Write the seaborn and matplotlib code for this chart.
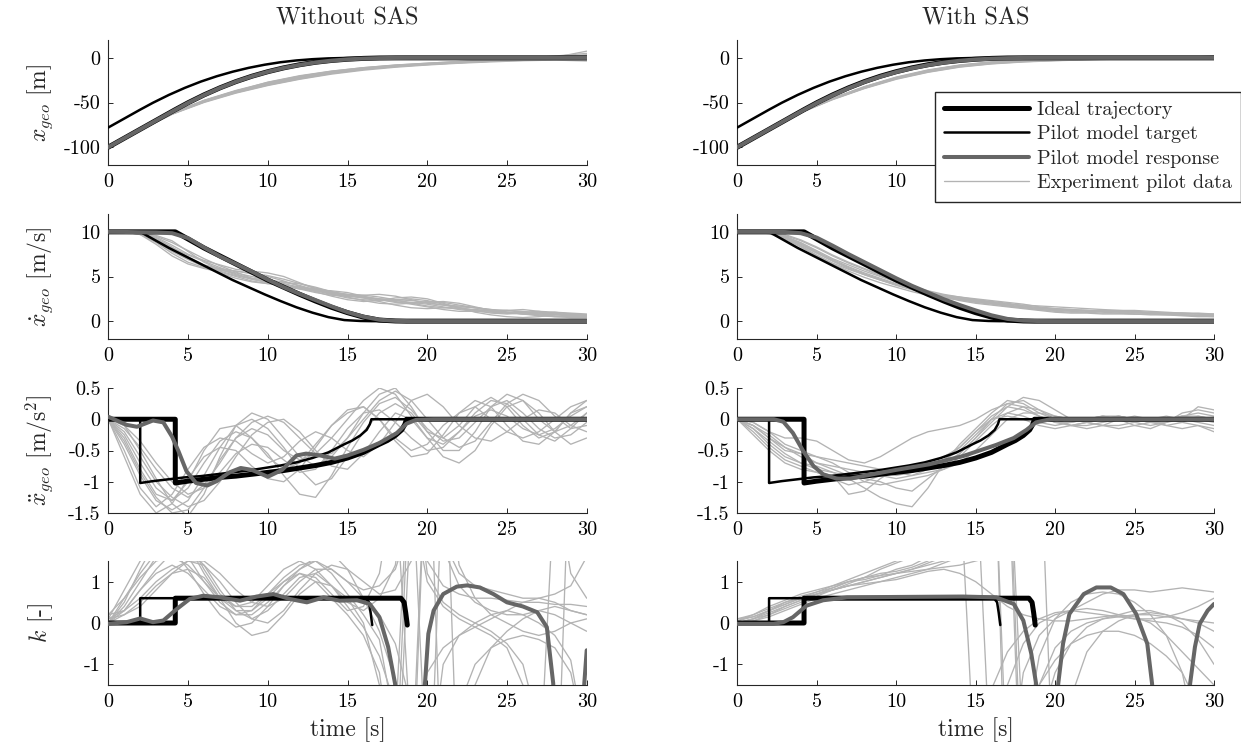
import matplotlib
matplotlib.use("Agg")
import matplotlib.pyplot as plt
from matplotlib.lines import Line2D
from matplotlib.ticker import FuncFormatter
import pandas as pd
import seaborn as sns

# ------------------------------------------------------------------
# Data
# ------------------------------------------------------------------
t_coarse = [0, 2, 4, 6, 8, 10, 12, 14, 16, 18, 20, 22, 24, 26, 28, 30]
t_grid = list(range(31))

# Ideal trajectory
ideal_pos_t = [0, 4.2, 5, 6, 7, 8, 9, 10, 11, 12, 13, 14, 15, 16, 17, 18, 18.7, 30]
ideal_pos = [-100, -58, -50.3, -41.5, -33.6, -26.6, -20.6, -15.5, -11.2, -7.7, -4.9,
             -2.9, -1.5, -0.6, -0.15, -0.02, 0, 0]
ideal_vel = [10, 10, 9.2, 8.2, 7.3, 6.4, 5.5, 4.6, 3.8, 3.0, 2.25, 1.55, 0.95, 0.45,
             0.12, 0.02, 0, 0]
ideal_acc_t = [0, 4.2, 4.2, 5, 6, 7, 8, 9, 10, 11, 12, 13, 14, 15, 16, 17, 17.5, 18,
               18.4, 18.6, 18.7, 30]
ideal_acc = [0, 0, -1.02, -0.99, -0.96, -0.93, -0.91, -0.88, -0.85, -0.82, -0.78, -0.74,
             -0.69, -0.62, -0.53, -0.40, -0.34, -0.26, -0.17, -0.08, 0, 0]
ideal_k_t = [0, 4.2, 4.2, 18.35, 18.55, 18.65, 18.75]
ideal_k = [0, 0, 0.6, 0.6, 0.5, 0.25, -0.05]

# Pilot model target (ideal trajectory with preview)
target_pos_t = [0, 2.0, 2.8, 3.8, 4.8, 5.8, 6.8, 7.8, 8.8, 9.8, 10.8, 11.8, 12.8, 13.8,
                14.8, 15.8, 16.5, 30]
target_pos = [-78, -58, -50.3, -41.5, -33.6, -26.6, -20.6, -15.5, -11.2, -7.7, -4.9,
              -2.9, -1.5, -0.6, -0.15, -0.02, 0, 0]
target_vel = [10, 10, 9.2, 8.2, 7.3, 6.4, 5.5, 4.6, 3.8, 3.0, 2.25, 1.55, 0.95, 0.45,
              0.12, 0.02, 0, 0]
target_acc_t = [0, 2.0, 2.0, 2.8, 3.8, 4.8, 5.8, 6.8, 7.8, 8.8, 9.8, 10.8, 11.8, 12.8,
                13.8, 14.8, 15.3, 15.8, 16.2, 16.4, 16.5, 30]
target_acc = [0, 0, -1.02, -0.99, -0.96, -0.93, -0.91, -0.88, -0.85, -0.82, -0.78, -0.74,
              -0.69, -0.62, -0.53, -0.40, -0.34, -0.26, -0.17, -0.08, 0, 0]
target_k_t = [0, 2.0, 2.0, 16.15, 16.35, 16.45, 16.55]
target_k = [0, 0, 0.6, 0.6, 0.5, 0.25, -0.05]

# Pilot model response
resp_t = [0, 1, 2, 3, 4, 5, 6, 7, 8, 9, 10, 11, 12, 13, 14, 15, 16, 17, 18, 19, 20, 30]
resp_pos_off = [-100, -90, -80.05, -70.1, -60.2, -50.5, -41.7, -33.7, -26.7, -20.7, -15.6,
                -11.3, -7.9, -5.1, -3.1, -1.7, -0.8, -0.3, -0.08, -0.01, 0, 0]
resp_pos_on = [-100, -90, -80, -70.05, -60.15, -50.6, -41.9, -34.0, -27.0, -21.0, -15.9,
               -11.6, -8.1, -5.3, -3.2, -1.8, -0.9, -0.35, -0.1, -0.02, 0, 0]
resp_vel_off = [10, 9.99, 9.95, 9.93, 9.85, 9.3, 8.25, 7.25, 6.4, 5.55, 4.65, 3.8, 3.05,
                2.35, 1.65, 1.0, 0.5, 0.16, 0.03, 0.0, 0, 0]
resp_vel_on = [10, 10, 10, 9.98, 9.85, 9.35, 8.45, 7.5, 6.6, 5.7, 4.8, 3.95, 3.2, 2.45,
               1.8, 1.2, 0.65, 0.25, 0.06, 0.01, 0, 0]

resp_acc_off_t = [0, 1.15, 1.8, 2.8, 3.45, 4.0, 4.4, 4.9, 5.5, 6.2, 6.8, 7.6, 8.3, 9.0,
                  10.0, 10.9, 11.8, 12.4, 13.3, 14.2, 15.0, 16.0, 17.0, 18.1, 18.7, 19.3,
                  20.4, 30]
resp_acc_off = [0.04, -0.09, -0.12, -0.02, -0.05, -0.28, -0.51, -0.83, -1.02, -1.06, -0.99,
                -0.85, -0.78, -0.81, -0.92, -0.81, -0.58, -0.55, -0.58, -0.63, -0.58, -0.49,
                -0.38, -0.22, -0.07, -0.01, 0, 0]
resp_acc_on_t = [0, 2.3, 2.9, 3.5, 4.15, 4.8, 5.4, 6.25, 7.1, 7.9, 10.0, 12.1, 14.2, 16.3,
                 17.4, 18.2, 18.8, 19.7, 30]
resp_acc_on = [0, 0, -0.04, -0.22, -0.51, -0.75, -0.88, -0.95, -0.95, -0.91, -0.81, -0.72,
               -0.59, -0.41, -0.30, -0.17, -0.05, 0, 0]

# k response, one list per continuous branch
resp_k_off_t = [
    [0, 1.15, 2.0, 2.8, 3.45, 4.3, 5.1, 5.95, 7.0, 8.26, 9.3, 10.35, 11.4, 12.45, 13.5,
     14.5, 15.6, 16.4, 17.0, 17.55, 17.98, 18.2],
    [19.7, 19.86, 20.07, 20.4, 21.0, 21.85, 22.5, 23.3, 24.15, 25.0, 26.0, 26.9, 27.5,
     27.9, 28.0],
    [29.75, 29.85, 30],
]
resp_k_off = [
    [-0.02, 0.02, 0.11, 0.02, 0.06, 0.34, 0.58, 0.66, 0.62, 0.54, 0.64, 0.70, 0.58, 0.50,
     0.62, 0.54, 0.55, 0.46, 0.14, -0.58, -1.46, -2.5],
    [-2.5, -1.46, -0.26, 0.30, 0.70, 0.88, 0.91, 0.86, 0.70, 0.50, 0.40, 0.26, -0.10,
     -1.46, -2.5],
    [-2.5, -1.46, -0.66],
]
resp_k_on_t = [
    [0, 2.27, 2.9, 3.5, 4.36, 5.4, 6.9, 10.0, 14.2, 16.3, 17.4, 18.0, 18.5, 18.8, 19.0],
    [20.0, 20.2, 20.5, 20.9, 21.8, 22.6, 23.5, 24.3, 25.1, 25.8, 26.1, 26.3],
    [28.3, 28.5, 28.8, 29.1, 29.6, 30],
]
resp_k_on = [
    [-0.02, -0.02, 0.02, 0.14, 0.42, 0.55, 0.62, 0.63, 0.64, 0.62, 0.46, 0.06, -0.74,
     -1.46, -2.5],
    [-2.5, -1.46, -0.5, 0.22, 0.70, 0.86, 0.86, 0.70, 0.22, -0.5, -1.46, -2.5],
    [-2.5, -1.46, -0.58, -0.02, 0.30, 0.46],
]

# Experiment pilot data: position (sampled on t_coarse)
exp_pos_off = [
    [-100, -80.2, -61.5, -47.5, -36.5, -27.5, -20.5, -15, -11, -8, -6, -4.2, -2.8, -1.5, -0.3, 1.5],
    [-100, -80.4, -62, -48.5, -38, -29.5, -22, -16.5, -12.5, -9.5, -7.5, -5.5, -3.8, -2.2, -0.8, 0.5],
    [-100, -80.3, -62.5, -49, -38.5, -30, -22.5, -17, -12.8, -9.8, -7.2, -5, -3, -1, 1, 3.5],
    [-100, -80.6, -63, -49.5, -39, -30.5, -23.5, -17.5, -13, -9.5, -6.8, -4.5, -2.5, -0.5, 2, 5],
    [-100, -80.2, -61.8, -48, -37.5, -28.5, -21.5, -16, -12, -9, -6.8, -5, -3.8, -2.8, -2, -1.2],
    [-100, -80.5, -62.8, -49.2, -37.8, -28, -20.8, -15.5, -11.5, -8.5, -6.5, -4.8, -3.5, -2.5, -1.8, -2.5],
    [-100, -80.3, -61.8, -47.8, -37, -28.8, -22, -16.8, -12.8, -9.8, -7.5, -5.5, -3.8, -2, 0.5, 7.5],
    [-100, -80.8, -63.2, -50, -39.5, -31, -24, -18.2, -13.8, -10.5, -8, -6, -4.5, -3.2, -2.5, -3.5],
    [-100, -80.4, -62.3, -48.6, -37.2, -27.2, -20, -14.8, -11, -8.2, -6, -4, -2.3, -0.8, 1, 2.5],
    [-100, -80.5, -62.6, -49, -38.2, -29.2, -21.8, -16.2, -12.2, -9.2, -7, -5.2, -3.4, -1.8, 0, 1],
]
exp_pos_on = [
    [-100, -80.1, -60.5, -45.2, -32.2, -21.5, -13.5, -8, -4.5, -2.5, -1.5, -0.8, -0.4, 0, 0.3, 0.5],
    [-100, -80.2, -61, -46, -33.5, -23, -15, -9.5, -6, -4, -2.8, -1.8, -1, -0.4, 0.2, 0.8],
    [-100, -80.1, -60.8, -45.6, -32.8, -22.2, -14.2, -8.5, -5, -3, -1.8, -1, -0.5, -0.2, 0.5, 2],
    [-100, -80.3, -61.3, -46.5, -34, -23.5, -15.8, -10, -6.5, -4.3, -3, -2, -1.2, -0.6, 0, 0.5],
    [-100, -80.1, -60.6, -45.3, -32.5, -22, -14, -8.3, -4.8, -2.8, -1.6, -0.8, -0.2, 0.2, 0.6, 1.2],
    [-100, -80.2, -61.1, -46.2, -33.8, -23, -14.8, -9, -5.6, -3.5, -2.2, -1.2, -0.6, -0.2, 0.1, 0.3],
    [-100, -80.1, -60.7, -45.5, -33, -22.6, -14.6, -8.8, -5.3, -3.2, -2, -1.3, -0.8, -0.4, 0.4, 1.5],
    [-100, -80.3, -61.4, -46.8, -34.4, -24, -16.2, -10.4, -6.8, -4.6, -3.2, -2.2, -1.4, -0.7, -0.2, 0.2],
]

# Experiment pilot data: velocity (sampled on t_grid)
exp_vel_off = [
    [10, 10, 9.9, 9.3, 8.3, 7.2, 6.3, 5.9, 5.6, 5.3, 5.0, 4.5, 3.9, 3.4, 3.0, 2.8, 2.7, 2.5, 2.3, 2.1, 1.9, 1.6, 1.3, 1.1, 1.0, 0.9, 0.9, 0.8, 0.7, 0.6, 0.6],
    [10, 10, 9.8, 8.8, 7.6, 6.6, 6.0, 5.7, 5.4, 5.0, 4.6, 4.2, 3.8, 3.4, 3.2, 3.0, 2.9, 2.7, 2.4, 2.0, 1.7, 1.5, 1.4, 1.3, 1.2, 1.0, 0.8, 0.7, 0.7, 0.8, 0.7],
    [10, 10, 9.9, 9.6, 9.0, 7.8, 6.6, 5.8, 5.2, 4.8, 4.6, 4.4, 4.0, 3.5, 3.0, 2.6, 2.4, 2.3, 2.4, 2.5, 2.3, 1.9, 1.5, 1.2, 1.1, 1.2, 1.3, 1.1, 0.8, 0.6, 0.5],
    [10, 10, 9.7, 8.6, 7.3, 6.4, 5.9, 5.5, 5.0, 4.5, 4.2, 4.0, 3.7, 3.3, 2.8, 2.4, 2.2, 2.3, 2.6, 2.7, 2.5, 2.0, 1.5, 1.0, 0.7, 0.5, 0.4, 0.5, 0.7, 0.8, 0.7],
    [10, 10, 9.9, 9.4, 8.5, 7.5, 6.8, 6.3, 5.8, 5.6, 5.4, 5.0, 4.3, 3.6, 3.1, 2.9, 2.9, 3.0, 2.8, 2.4, 2.0, 1.8, 1.7, 1.5, 1.2, 1.0, 1.0, 1.1, 1.0, 0.8, 0.7],
    [10, 10, 9.8, 9.0, 8.0, 7.0, 6.2, 5.6, 5.1, 4.7, 4.4, 4.1, 3.6, 3.2, 2.9, 2.8, 2.6, 2.2, 1.8, 1.5, 1.4, 1.5, 1.6, 1.5, 1.3, 1.0, 0.8, 0.6, 0.5, 0.5, 0.6],
    [10, 10, 9.9, 9.5, 8.8, 7.9, 7.0, 6.2, 5.5, 4.8, 4.3, 3.9, 3.6, 3.5, 3.4, 3.2, 2.8, 2.4, 2.1, 2.0, 2.1, 2.2, 2.0, 1.6, 1.2, 0.9, 0.8, 0.9, 1.0, 0.9, 0.8],
    [10, 10, 9.7, 8.9, 7.8, 6.9, 6.1, 5.4, 4.8, 4.4, 4.2, 4.3, 4.2, 3.8, 3.3, 2.9, 2.6, 2.4, 2.2, 1.9, 1.6, 1.3, 1.1, 1.1, 1.2, 1.2, 1.0, 0.7, 0.5, 0.4, 0.4],
    [10, 10, 9.9, 9.2, 8.1, 7.0, 6.2, 5.8, 5.6, 5.4, 5.1, 4.7, 4.2, 3.7, 3.3, 3.0, 2.7, 2.5, 2.4, 2.3, 2.1, 1.8, 1.5, 1.2, 0.9, 0.8, 0.9, 1.0, 0.9, 0.7, 0.6],
    [10, 10, 9.8, 9.1, 8.2, 7.4, 6.7, 6.0, 5.3, 4.7, 4.3, 4.0, 3.8, 3.6, 3.2, 2.7, 2.3, 2.0, 1.9, 2.0, 2.2, 2.1, 1.8, 1.5, 1.3, 1.2, 1.1, 0.9, 0.8, 0.7, 0.7],
]
exp_vel_on = [
    [10, 10, 9.9, 9.5, 8.8, 7.9, 7.0, 6.3, 5.6, 5.0, 4.4, 3.8, 3.2, 2.8, 2.5, 2.2, 2.0, 1.8, 1.6, 1.4, 1.3, 1.2, 1.1, 1.1, 1.0, 1.0, 0.9, 0.9, 0.8, 0.8, 0.7],
    [10, 10, 9.9, 9.3, 8.4, 7.4, 6.5, 5.8, 5.2, 4.6, 4.0, 3.5, 3.0, 2.7, 2.5, 2.4, 2.2, 2.0, 1.7, 1.5, 1.3, 1.2, 1.2, 1.1, 1.1, 1.0, 0.9, 0.8, 0.7, 0.6, 0.6],
    [10, 10, 9.95, 9.6, 9.0, 8.2, 7.3, 6.5, 5.8, 5.1, 4.4, 3.8, 3.3, 2.9, 2.6, 2.3, 2.1, 1.9, 1.7, 1.5, 1.4, 1.3, 1.2, 1.2, 1.2, 1.2, 1.1, 1.0, 0.9, 0.8, 0.8],
    [10, 10, 9.9, 9.4, 8.6, 7.7, 6.9, 6.1, 5.4, 4.8, 4.2, 3.6, 3.1, 2.7, 2.3, 2.0, 1.8, 1.6, 1.4, 1.2, 1.0, 0.9, 0.9, 0.8, 0.8, 0.8, 0.7, 0.7, 0.6, 0.5, 0.5],
    [10, 10, 9.9, 9.5, 8.7, 7.8, 6.8, 6.0, 5.3, 4.7, 4.1, 3.6, 3.2, 2.9, 2.7, 2.5, 2.3, 2.1, 1.9, 1.6, 1.4, 1.3, 1.2, 1.0, 0.9, 0.8, 0.8, 0.9, 0.9, 0.8, 0.7],
    [10, 10, 9.8, 9.2, 8.3, 7.3, 6.4, 5.6, 4.9, 4.3, 3.8, 3.3, 2.9, 2.6, 2.4, 2.2, 2.0, 1.7, 1.5, 1.3, 1.1, 1.0, 1.0, 1.1, 1.1, 1.0, 0.9, 0.8, 0.7, 0.6, 0.5],
    [10, 10, 9.95, 9.7, 9.1, 8.3, 7.4, 6.6, 5.9, 5.2, 4.5, 3.9, 3.4, 3.0, 2.7, 2.4, 2.1, 1.9, 1.8, 1.7, 1.6, 1.5, 1.4, 1.3, 1.2, 1.1, 1.0, 0.9, 0.9, 0.9, 0.8],
    [10, 10, 9.9, 9.4, 8.5, 7.6, 6.7, 5.9, 5.2, 4.6, 4.1, 3.6, 3.1, 2.7, 2.4, 2.1, 1.9, 1.7, 1.5, 1.3, 1.2, 1.1, 1.0, 0.9, 0.9, 0.8, 0.8, 0.7, 0.7, 0.6, 0.6],
]

# Experiment pilot data: acceleration (sampled on t_grid)
exp_acc_off = [
    [0, -0.3, -0.8, -1.2, -1.3, -1.0, -0.5, -0.15, -0.1, -0.3, -0.6, -0.8, -0.7, -0.4, -0.1, 0.1, 0.2, 0.0, -0.3, -0.5, -0.4, -0.1, 0.1, 0.2, 0.0, -0.2, -0.3, -0.2, 0.0, 0.2, 0.3],
    [0.05, -0.1, -0.5, -0.95, -1.35, -1.55, -1.2, -0.6, -0.1, 0.1, 0.0, -0.3, -0.6, -0.75, -0.6, -0.3, 0.1, 0.4, 0.5, 0.2, -0.2, -0.5, -0.5, -0.2, 0.2, 0.4, 0.3, 0.0, -0.2, -0.1, 0.1],
    [0, -0.5, -1.1, -1.4, -1.2, -0.8, -0.45, -0.3, -0.35, -0.55, -0.7, -0.6, -0.35, -0.2, -0.3, -0.5, -0.6, -0.4, -0.05, 0.3, 0.4, 0.2, -0.1, -0.3, -0.35, -0.2, 0.0, 0.15, 0.1, -0.1, -0.2],
    [0, -0.2, -0.6, -1.0, -1.25, -1.4, -1.3, -1.0, -0.6, -0.25, -0.05, 0.0, -0.2, -0.5, -0.75, -0.8, -0.55, -0.2, 0.1, 0.0, -0.3, -0.6, -0.7, -0.5, -0.1, 0.2, 0.3, 0.1, -0.2, -0.4, -0.3],
    [0, -0.4, -0.9, -1.3, -1.45, -1.3, -0.9, -0.45, -0.1, 0.0, -0.15, -0.45, -0.8, -1.05, -0.95, -0.6, -0.2, 0.1, 0.25, 0.1, -0.2, -0.3, -0.1, 0.2, 0.35, 0.2, -0.1, -0.3, -0.2, 0.1, 0.3],
    [0, -0.15, -0.45, -0.8, -1.1, -1.25, -1.05, -0.7, -0.3, -0.05, 0.05, -0.05, -0.3, -0.55, -0.55, -0.3, 0.0, 0.3, 0.45, 0.3, 0.0, -0.3, -0.45, -0.35, -0.05, 0.25, 0.4, 0.3, 0.05, -0.15, -0.1],
    [0, -0.6, -1.2, -1.5, -1.35, -0.95, -0.6, -0.45, -0.5, -0.75, -0.95, -1.0, -0.8, -0.45, -0.1, 0.15, 0.2, 0.0, -0.35, -0.6, -0.55, -0.25, 0.1, 0.3, 0.2, -0.1, -0.35, -0.4, -0.2, 0.1, 0.2],
    [0, -0.25, -0.7, -1.1, -1.3, -1.1, -0.7, -0.35, -0.2, -0.3, -0.55, -0.9, -1.2, -1.25, -0.9, -0.45, -0.05, 0.25, 0.35, 0.15, -0.15, -0.35, -0.3, -0.05, 0.2, 0.3, 0.1, -0.15, -0.3, -0.25, -0.05],
    [0, -0.35, -0.85, -1.25, -1.5, -1.45, -1.1, -0.65, -0.3, -0.15, -0.25, -0.5, -0.65, -0.55, -0.3, 0.0, 0.3, 0.5, 0.4, 0.05, -0.3, -0.4, -0.2, 0.1, 0.3, 0.25, 0.0, -0.25, -0.35, -0.15, 0.1],
    [0, -0.1, -0.35, -0.7, -1.0, -1.2, -1.1, -0.85, -0.55, -0.4, -0.45, -0.65, -0.85, -0.8, -0.5, -0.15, 0.1, 0.15, -0.05, -0.3, -0.5, -0.45, -0.2, 0.05, 0.15, 0.05, -0.15, -0.25, -0.15, 0.05, 0.2],
]
exp_acc_on = [
    [0, -0.1, -0.25, -0.45, -0.6, -0.7, -0.75, -0.8, -0.85, -0.9, -0.95, -0.9, -0.8, -0.65, -0.45, -0.2, 0.05, 0.2, 0.15, 0.05, -0.05, -0.1, -0.05, 0.0, 0.05, 0.0, -0.05, 0.0, 0.05, 0.0, -0.05],
    [0, -0.15, -0.35, -0.55, -0.7, -0.8, -0.85, -0.95, -1.1, -1.25, -1.35, -1.4, -1.1, -0.7, -0.4, -0.15, 0.1, 0.3, 0.25, 0.1, 0.0, -0.1, -0.15, -0.1, 0.0, 0.05, 0.0, -0.1, -0.05, 0.05, 0.0],
    [0, -0.05, -0.2, -0.3, -0.3, -0.35, -0.5, -0.65, -0.7, -0.6, -0.45, -0.3, -0.2, -0.15, -0.1, 0.0, 0.15, 0.25, 0.2, 0.05, -0.05, -0.05, 0.0, 0.05, 0.0, -0.1, -0.15, -0.05, 0.1, 0.15, 0.1],
    [0, -0.2, -0.45, -0.65, -0.75, -0.85, -0.95, -1.05, -1.0, -0.9, -0.85, -0.8, -0.75, -0.7, -0.55, -0.3, 0.0, 0.25, 0.3, 0.15, 0.0, -0.1, -0.1, -0.05, 0.0, 0.0, -0.05, -0.1, -0.15, -0.1, -0.2],
    [0, -0.1, -0.3, -0.5, -0.55, -0.6, -0.7, -0.85, -1.0, -1.05, -1.0, -0.95, -0.9, -0.8, -0.6, -0.35, -0.1, 0.1, 0.2, 0.15, 0.05, 0.0, -0.05, -0.1, -0.1, -0.05, 0.0, 0.05, 0.0, -0.05, -0.1],
    [0, -0.25, -0.5, -0.7, -0.8, -0.85, -0.9, -1.2, -1.15, -0.95, -0.8, -0.75, -0.7, -0.6, -0.45, -0.2, 0.0, 0.1, 0.05, -0.05, -0.1, -0.05, 0.0, 0.05, 0.0, -0.05, -0.1, -0.05, 0.05, 0.1, 0.05],
    [0, -0.1, -0.3, -0.45, -0.55, -0.7, -0.8, -0.9, -0.95, -1.0, -1.1, -1.15, -0.95, -0.75, -0.55, -0.3, -0.05, 0.2, 0.35, 0.3, 0.15, 0.0, -0.05, 0.0, 0.05, 0.0, -0.05, -0.05, 0.0, 0.2, 0.15],
    [0, -0.15, -0.4, -0.6, -0.7, -0.75, -0.85, -0.9, -0.9, -0.85, -0.9, -0.85, -0.75, -0.65, -0.5, -0.25, 0.0, 0.05, 0.0, -0.1, -0.15, -0.1, -0.05, -0.1, -0.15, -0.1, -0.05, 0.0, -0.05, -0.1, -0.15],
    [0, -0.05, -0.2, -0.4, -0.5, -0.6, -0.65, -0.7, -0.75, -0.8, -0.85, -0.9, -0.85, -0.8, -0.7, -0.5, -0.25, 0.0, 0.1, 0.1, 0.05, 0.0, 0.0, 0.05, 0.05, 0.0, -0.05, 0.0, 0.05, 0.05, 0.0],
]

# Experiment pilot data: k (sampled on t_grid)
exp_k_off = [
    [0.0, 0.3, 0.8, 1.3, 1.7, 1.8, 1.4, 0.8, 0.3, 0.1, 0.3, 0.7, 1.1, 1.2, 0.9, 0.5, 0.3, 0.6, 1.4, 4.0, -4.0, -1.0, -0.3, 0.0, 0.2, 0.3, 0.2, 0.0, -0.3, -0.9, -3.0],
    [0.2, 0.6, 1.2, 1.7, 2.0, 1.6, 1.0, 0.5, 0.2, 0.2, 0.5, 0.9, 1.3, 1.5, 1.2, 0.7, 0.2, -0.4, -2.5, 5.0, 1.5, 0.9, 0.7, 0.6, 0.6, 0.55, 0.5, 0.5, 0.45, 0.45, 0.4],
    [0.0, 0.2, 0.5, 0.9, 1.2, 1.3, 1.1, 0.6, 0.0, -0.3, -0.2, 0.2, 0.7, 1.0, 0.9, 0.6, 0.0, -1.5, -5.0, 3.0, 1.0, 0.4, 0.1, -0.1, -0.3, -0.6, -1.5, -4.0, 3.5, 1.2, 0.6],
    [0.1, 0.8, 1.5, 1.9, 1.8, 1.3, 0.7, 0.2, -0.1, 0.0, 0.4, 0.9, 1.2, 1.1, 0.7, 0.3, 0.4, 1.2, 3.5, -3.0, -1.2, -0.6, -0.3, -0.1, 0.1, 0.3, 0.5, 0.6, 0.5, 0.3, 0.2],
    [0.0, 0.4, 1.0, 1.6, 2.2, 2.0, 1.3, 0.7, 0.4, 0.4, 0.7, 1.0, 1.3, 1.6, 1.7, 1.3, 0.6, -0.2, -1.4, -4.0, 5.0, 2.0, 1.2, 0.9, 0.8, 0.7, 0.6, 0.6, 0.7, 0.9, 1.6],
    [0.2, 0.3, 0.6, 1.0, 1.3, 1.5, 1.5, 1.2, 0.8, 0.5, 0.4, 0.6, 1.0, 1.3, 1.3, 1.0, 0.6, 0.2, -0.5, -2.0, -6.0, 4.0, 1.4, 0.6, 0.2, 0.0, -0.2, -0.3, -0.2, 0.0, 0.1],
    [0.0, 0.5, 1.3, 2.0, 2.3, 1.9, 1.2, 0.6, 0.3, 0.3, 0.6, 1.0, 1.2, 1.0, 0.6, 0.2, -0.3, -1.2, -4.0, 4.5, 1.2, 0.5, 0.2, 0.0, -0.2, -0.5, -1.0, -2.5, -6.0, 5.0, 2.0],
    [0.1, 0.2, 0.4, 0.8, 1.2, 1.5, 1.4, 1.0, 0.5, 0.1, 0.0, 0.3, 0.8, 1.2, 1.4, 1.3, 1.0, 0.7, 0.8, 1.5, 3.0, 6.0, -5.0, -1.5, -0.6, -0.2, 0.1, 0.3, 0.2, 0.0, -0.2],
    [0.0, 0.6, 1.1, 1.5, 1.6, 1.4, 1.0, 0.6, 0.4, 0.5, 0.9, 1.3, 1.5, 1.3, 0.9, 0.4, -0.1, -0.8, -2.0, -5.0, 5.0, 1.8, 0.9, 0.5, 0.3, 0.2, 0.2, 0.3, 0.4, 0.3, 0.2],
    [0.1, 0.3, 0.8, 1.2, 1.4, 1.2, 0.8, 0.4, 0.2, 0.3, 0.7, 1.1, 1.4, 1.5, 1.3, 1.0, 0.8, 0.9, 1.3, 2.5, 6.0, -5.0, -2.0, -1.0, -0.6, -0.4, -0.3, -0.4, -0.6, -1.2, -3.0],
]
exp_k_on = [
    [0.0, 0.1, 0.25, 0.4, 0.55, 0.7, 0.8, 0.9, 1.0, 1.1, 1.2, 1.3, 1.4, 1.5, 1.6, 1.8, 2.5, 5.0, -5.0, -1.5, -0.6, -0.2, 0.0, 0.1, 0.15, 0.2, 0.2, 0.15, 0.1, 0.05, 0.0],
    [0.05, 0.15, 0.3, 0.5, 0.65, 0.75, 0.85, 1.0, 1.1, 1.2, 1.25, 1.35, 1.5, 1.7, 2.0, 2.8, 6.0, -4.0, -1.2, -0.3, 0.1, 0.3, 0.5, 0.7, 0.8, 0.8, 0.75, 0.8, 0.85, 0.8, 0.75],
    [0.0, 0.05, 0.15, 0.3, 0.45, 0.6, 0.7, 0.8, 0.9, 1.0, 1.05, 1.15, 1.25, 1.3, 1.2, 1.0, 0.7, 0.4, 0.2, 0.1, 0.05, 0.05, 0.1, 0.15, 0.2, 0.15, 0.0, -0.3, -0.7, -1.1, -1.5],
    [0.1, 0.2, 0.35, 0.5, 0.6, 0.7, 0.8, 0.95, 1.1, 1.3, 1.45, 1.6, 1.8, 2.2, 3.5, -4.0, -1.6, -0.7, -0.2, 0.1, 0.25, 0.3, 0.25, 0.2, 0.15, 0.1, 0.05, 0.0, -0.1, -0.3, -0.6],
    [0.0, 0.1, 0.2, 0.35, 0.5, 0.65, 0.8, 0.9, 0.95, 1.0, 1.1, 1.2, 1.3, 1.45, 1.6, 1.9, 2.6, 4.5, -6.0, -2.5, -1.2, -0.5, -0.1, 0.1, 0.2, 0.3, 0.3, 0.2, 0.0, -0.4, -1.0],
    [0.05, 0.2, 0.4, 0.55, 0.7, 0.8, 0.9, 1.05, 1.2, 1.35, 1.5, 1.6, 1.7, 1.9, 2.4, 4.0, -4.0, -1.5, -0.5, 0.0, 0.2, 0.3, 0.35, 0.3, 0.2, 0.1, 0.1, 0.15, 0.25, 0.4, 0.6],
    [0.0, 0.05, 0.2, 0.4, 0.55, 0.7, 0.85, 1.0, 1.1, 1.15, 1.2, 1.3, 1.45, 1.6, 1.8, 2.2, 3.0, 5.0, -3.0, -0.8, 0.1, 0.5, 0.7, 0.75, 0.7, 0.5, 0.2, -0.3, -1.2, -3.0, -6.0],
    [0.1, 0.15, 0.3, 0.45, 0.6, 0.75, 0.9, 1.0, 1.05, 1.15, 1.3, 1.4, 1.6, 1.8, 2.2, 3.5, 7.0, -6.0, -3.0, -1.5, -0.9, -0.5, -0.3, -0.2, -0.2, -0.3, -0.5, -0.8, -1.2, -2.0, -4.0],
    [0.0, 0.1, 0.3, 0.45, 0.6, 0.7, 0.8, 0.9, 1.0, 1.1, 1.2, 1.25, 1.3, 1.35, 1.4, 1.5, 1.6, 1.9, 2.6, 5.0, -5.0, -1.8, -0.7, -0.2, 0.05, 0.2, 0.25, 0.2, 0.1, 0.0, -0.2],
]

col_titles = ["Without SAS", "With SAS"]
row_labels = [r"$x_{geo}$ [m]", r"$\dot{x}_{geo}$ [m/s]",
              r"$\ddot{x}_{geo}$ [m/s$^{2}$]", r"$k$ [-]"]
row_ylims = [(-120, 20), (-2, 12), (-1.5, 0.5), (-1.5, 1.5)]
row_yticks = [[-100, -50, 0], [0, 5, 10], [-1.5, -1, -0.5, 0, 0.5], [-1, 0, 1]]
x_ticks = [0, 5, 10, 15, 20, 25, 30]
legend_labels = ["Ideal trajectory", "Pilot model target",
                 "Pilot model response", "Experiment pilot data"]

# ------------------------------------------------------------------
# Style
# ------------------------------------------------------------------
sns.set_theme(style="white")
plt.rcParams.update({
    "font.family": ["cmr10", "DejaVu Serif"],
    "mathtext.fontset": "cm",
    "axes.unicode_minus": False,
    "axes.formatter.use_mathtext": True,
    "font.size": 14,
    "axes.edgecolor": "#262626",
    "axes.linewidth": 0.8,
    "xtick.direction": "in",
    "ytick.direction": "in",
    "xtick.major.size": 3.5,
    "ytick.major.size": 3.5,
    "xtick.major.width": 0.7,
    "ytick.major.width": 0.7,
    "xtick.color": "#262626",
    "ytick.color": "#262626",
    "xtick.labelcolor": "black",
    "ytick.labelcolor": "black",
    "xtick.major.pad": 5.5,
    "ytick.major.pad": 5.5,
    "xtick.bottom": True,
    "ytick.left": True,
})

C_IDEAL, LW_IDEAL = "black", 3.6
C_TARGET, LW_TARGET = "black", 1.8
C_RESP, LW_RESP = "#666666", 2.9
C_EXP, LW_EXP = "#b3b3b3", 0.95

TICK_FS = 14.5
LABEL_FS = 17
TITLE_FS = 17.4
LEGEND_FS = 14.5


def long_frame(times, series):
    """Stack several (time, value) branches into one long table."""
    rows = []
    for unit, (ts, vs) in enumerate(zip(times, series)):
        for t, v in zip(ts, vs):
            rows.append((unit, t, v))
    return pd.DataFrame(rows, columns=["unit", "t", "v"])


def draw(ax, times, series, color, lw, z):
    df = long_frame(times, series)
    sns.lineplot(data=df, x="t", y="v", units="unit", estimator=None, sort=False,
                 color=color, linewidth=lw, zorder=z, legend=False, ax=ax)


panels = {
    0: dict(
        exp=[([t_coarse] * len(exp_pos_off), exp_pos_off), ([t_coarse] * len(exp_pos_on), exp_pos_on)],
        ideal=([ideal_pos_t], [ideal_pos]),
        target=([target_pos_t], [target_pos]),
        resp=[([resp_t], [resp_pos_off]), ([resp_t], [resp_pos_on])],
    ),
    1: dict(
        exp=[([t_grid] * len(exp_vel_off), exp_vel_off), ([t_grid] * len(exp_vel_on), exp_vel_on)],
        ideal=([ideal_pos_t], [ideal_vel]),
        target=([target_pos_t], [target_vel]),
        resp=[([resp_t], [resp_vel_off]), ([resp_t], [resp_vel_on])],
    ),
    2: dict(
        exp=[([t_grid] * len(exp_acc_off), exp_acc_off), ([t_grid] * len(exp_acc_on), exp_acc_on)],
        ideal=([ideal_acc_t], [ideal_acc]),
        target=([target_acc_t], [target_acc]),
        resp=[([resp_acc_off_t], [resp_acc_off]), ([resp_acc_on_t], [resp_acc_on])],
    ),
    3: dict(
        exp=[([t_grid] * len(exp_k_off), exp_k_off), ([t_grid] * len(exp_k_on), exp_k_on)],
        ideal=([ideal_k_t], [ideal_k]),
        target=([target_k_t], [target_k]),
        resp=[(resp_k_off_t, resp_k_off), (resp_k_on_t, resp_k_on)],
    ),
}

# ------------------------------------------------------------------
# Figure layout (pixel geometry of a 1241 x 747 canvas)
# ------------------------------------------------------------------
W, H = 1241, 747
fig = plt.figure(figsize=(W / 100, H / 100), dpi=100)
col_x = [(108.3, 586.7), (737.3, 1214.0)]
row_y = [(40, 165), (214, 339), (388, 513), (561, 685)]

fmt = FuncFormatter(lambda v, p: f"{v:g}")

for r in range(4):
    for c in range(2):
        x0, x1 = col_x[c]
        y0, y1 = row_y[r]
        ax = fig.add_axes([x0 / W, 1 - y1 / H, (x1 - x0) / W, (y1 - y0) / H])
        p = panels[r]
        draw(ax, *p["exp"][c], C_EXP, LW_EXP, 1)
        draw(ax, *p["ideal"], C_IDEAL, LW_IDEAL, 2)
        draw(ax, *p["target"], C_TARGET, LW_TARGET, 3)
        draw(ax, *p["resp"][c], C_RESP, LW_RESP, 4)

        ax.set_xlim(0, 30)
        ax.set_ylim(*row_ylims[r])
        ax.set_xticks(x_ticks)
        ax.set_yticks(row_yticks[r])
        ax.xaxis.set_major_formatter(fmt)
        ax.yaxis.set_major_formatter(fmt)
        ax.tick_params(labelsize=TICK_FS)
        sns.despine(ax=ax)
        ax.set_xlabel("time [s]" if r == 3 else "", fontsize=LABEL_FS, labelpad=5)
        if c == 0:
            ax.set_ylabel(row_labels[r], fontsize=LABEL_FS)
            ax.yaxis.set_label_coords(-0.112, 0.5)
        else:
            ax.set_ylabel("")
        if r == 0:
            ax.set_title(col_titles[c], fontsize=TITLE_FS, pad=11)

handles = [
    Line2D([], [], color=C_IDEAL, lw=LW_IDEAL),
    Line2D([], [], color=C_TARGET, lw=LW_TARGET),
    Line2D([], [], color=C_RESP, lw=LW_RESP),
    Line2D([], [], color=C_EXP, lw=LW_EXP),
]
fig.legend(handles, legend_labels, loc="upper left",
           bbox_to_anchor=(935 / W, 1 - 91.7 / H), frameon=True, fancybox=False,
           edgecolor="#262626", facecolor="white", framealpha=1, fontsize=LEGEND_FS,
           handlelength=4.2, handletextpad=0.4, labelspacing=0.32, borderpad=0.45,
           borderaxespad=0)

fig.savefig("out.png", dpi=100)
